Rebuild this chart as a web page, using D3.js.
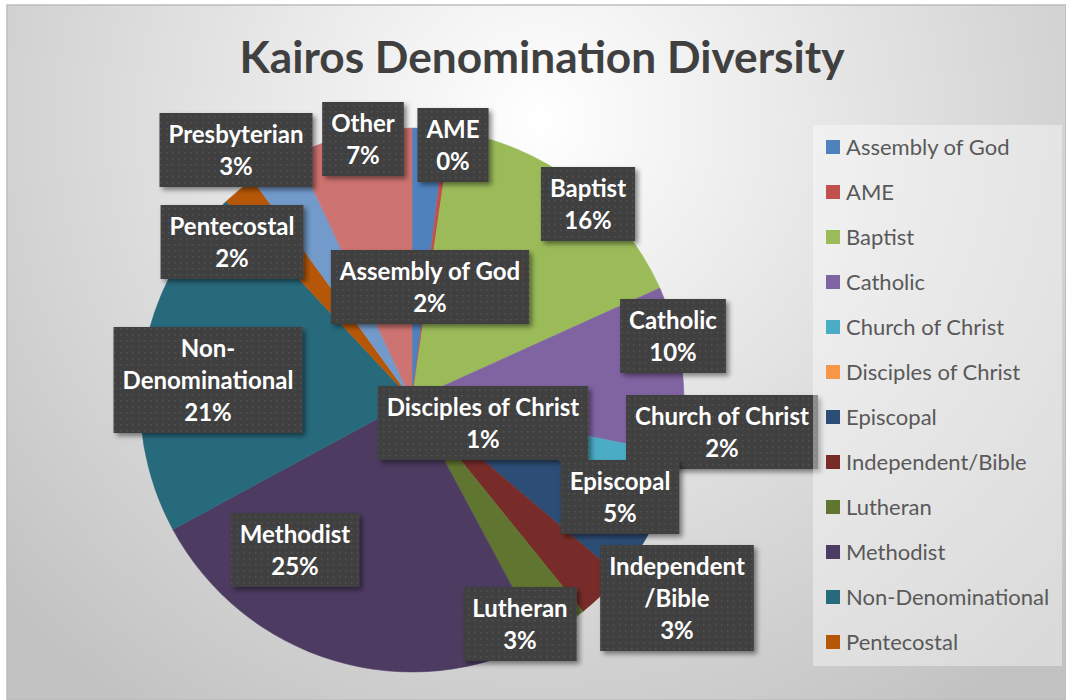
<!DOCTYPE html>
<html>
<head>
<meta charset="utf-8">
<script src="https://cdn.jsdelivr.net/npm/d3@7"></script>
<style>
  html, body { margin: 0; padding: 0; background: #fff; }
  svg { display: block; }
</style>
</head>
<body>
<div id="main"></div>
<script>
// chart data
const categories = ['Assembly of God', 'AME', 'Baptist', 'Catholic', 'Church of Christ',
  'Disciples of Christ', 'Episcopal', 'Independent/Bible', 'Lutheran', 'Methodist',
  'Non-Denominational', 'Pentecostal', 'Presbyterian', 'Other'];
const shares = [2, 0.3, 16, 10, 2, 1, 5, 3, 3, 25, 21, 2, 3, 7];
const sliceColors = ['#4F81BD', '#C0504D', '#9BBB59', '#8064A2', '#4BACC6', '#F79646',
  '#2C4D75', '#772C2A', '#5F7530', '#4D3B62', '#276A7C', '#B65708', '#729ACA', '#CD7371'];
// label text lines (before the percent line)
const labelLines = [['Assembly of God'], ['AME'], ['Baptist'], ['Catholic'], ['Church of Christ'],
  ['Disciples of Christ'], ['Episcopal'], ['Independent', '/Bible'], ['Lutheran'], ['Methodist'],
  ['Non-', 'Denominational'], ['Pentecostal'], ['Presbyterian'], ['Other']];
// legend shows only the first 12 entries (rest clipped)
const legendCount = 12;

// layout
const width = 1066, height = 700;
const center = { x: 412, y: 400 };
const radius = 272;
// hand-placed label box centres, like the dragged labels in the original
const labelPos = {
  'Assembly of God': [430, 287], 'AME': [453, 145], 'Baptist': [588, 204],
  'Catholic': [673, 336], 'Church of Christ': [722, 432], 'Disciples of Christ': [483, 423],
  'Episcopal': [620, 497], 'Independent/Bible': [677, 598], 'Lutheran': [520, 624],
  'Methodist': [295, 550], 'Non-Denominational': [208, 380], 'Pentecostal': [232, 242],
  'Presbyterian': [236, 150], 'Other': [363, 139]
};

const dataset = categories.map((c, i) => ({ name: c, value: shares[i], color: sliceColors[i], lines: labelLines[i] }));
const total = d3.sum(shares);

const svg = d3.select('#main').append('svg')
  .attr('width', width)
  .attr('height', height);

const defs = svg.append('defs');
const bg = defs.append('radialGradient')
  .attr('id', 'bg')
  .attr('gradientUnits', 'userSpaceOnUse')
  .attr('cx', 540).attr('cy', 120).attr('r', 720);
bg.append('stop').attr('offset', '0%').attr('stop-color', '#ffffff');
bg.append('stop').attr('offset', '100%').attr('stop-color', '#c2c2c2');

const dots = defs.append('pattern')
  .attr('id', 'dots')
  .attr('patternUnits', 'userSpaceOnUse')
  .attr('width', 6).attr('height', 6);
dots.append('rect').attr('width', 6).attr('height', 6).attr('fill', '#3f3f3f');
dots.append('rect').attr('x', 2).attr('y', 2).attr('width', 1.5).attr('height', 1.5).attr('fill', '#525252');

const shadow = defs.append('filter').attr('id', 'shadow')
  .attr('x', '-20%').attr('y', '-20%').attr('width', '150%').attr('height', '150%');
shadow.append('feDropShadow')
  .attr('dx', 3).attr('dy', 3).attr('stdDeviation', 2.5)
  .attr('flood-color', '#000').attr('flood-opacity', 0.45);

// background
svg.append('rect')
  .attr('x', 7).attr('y', 5)
  .attr('width', width - 7).attr('height', height - 5)
  .attr('fill', 'url(#bg)')
  .attr('stroke', '#bdbdbd').attr('stroke-width', 1.5);

// title
svg.append('text')
  .attr('x', 542).attr('y', 73)
  .attr('text-anchor', 'middle')
  .attr('font-family', 'Lato, sans-serif')
  .attr('font-weight', 'bold')
  .attr('font-size', 44)
  .attr('textLength', 605)
  .attr('lengthAdjust', 'spacingAndGlyphs')
  .attr('fill', '#404040')
  .text('Kairos Denomination Diversity');

// pie
const pie = d3.pie().sort(null).value((d) => d.value);
const arc = d3.arc().innerRadius(0).outerRadius(radius);
const arcs = pie(dataset);

svg.append('g')
  .attr('transform', `translate(${center.x}, ${center.y})`)
  .selectAll('path')
  .data(arcs)
  .enter()
  .append('path')
  .attr('d', arc)
  .attr('fill', (d) => d.data.color)
  .attr('stroke', (d) => d.data.color)
  .attr('stroke-width', 0.5);

// legend
const legend = svg.append('g');
legend.append('rect')
  .attr('x', 813).attr('y', 125)
  .attr('width', 249).attr('height', 541)
  .attr('fill', '#ffffff').attr('fill-opacity', 0.4);

const legendY = d3.scalePoint()
  .domain(categories.slice(0, legendCount))
  .range([147, 642]);

const item = legend.selectAll('g.item')
  .data(dataset.slice(0, legendCount))
  .enter()
  .append('g')
  .attr('class', 'item')
  .attr('transform', (d) => `translate(826, ${legendY(d.name)})`);
item.append('rect')
  .attr('x', 0).attr('y', -7)
  .attr('width', 14).attr('height', 14)
  .attr('fill', (d) => d.color);
item.append('text')
  .attr('x', 20).attr('y', 7.5)
  .attr('font-family', 'Lato, sans-serif')
  .attr('font-size', 22)
  .attr('fill', '#595959')
  .text((d) => d.name);

// data labels
const lineH = 32;
const labels = svg.append('g')
  .selectAll('g')
  .data(arcs)
  .enter()
  .append('g')
  .attr('transform', (d) => `translate(${labelPos[d.data.name][0]}, ${labelPos[d.data.name][1]})`);

labels.each(function (d) {
  const g = d3.select(this);
  const lines = d.data.lines.concat([Math.round(d.data.value / total * 100) + '%']);
  const box = g.append('rect')
    .attr('fill', 'url(#dots)')
    .attr('filter', 'url(#shadow)');
  const txt = g.append('text')
    .attr('text-anchor', 'middle')
    .attr('font-family', 'Lato, sans-serif')
    .attr('font-weight', 'bold')
    .attr('font-size', 24)
    .attr('fill', '#ffffff');
  const y0 = -(lines.length - 1) * lineH / 2;
  lines.forEach((l, i) => {
    txt.append('tspan')
      .attr('x', 0)
      .attr('y', y0 + i * lineH + 9)
      .text(l);
  });
  const w = d3.max(txt.selectAll('tspan').nodes(), (n) => n.getComputedTextLength());
  const bw = w + 18, bh = lines.length * lineH + 10;
  box.attr('x', -bw / 2).attr('y', -bh / 2).attr('width', bw).attr('height', bh);
});

// legend sits above the church of christ label box
legend.raise();
</script>
</body>
</html>
